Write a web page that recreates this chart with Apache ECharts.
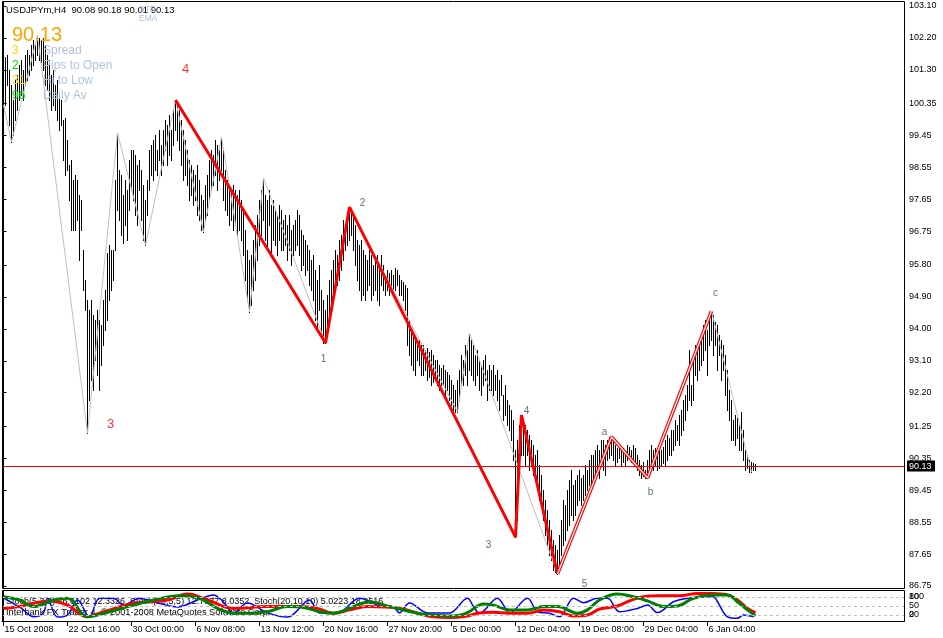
<!DOCTYPE html>
<html><head><meta charset="utf-8">
<script src="https://cdn.jsdelivr.net/npm/echarts@6/dist/echarts.min.js"></script>
<style>html,body{margin:0;padding:0;background:#fff}#c{width:943px;height:638px}</style>
</head><body><div id="c"></div>
<script>
// ---------------- DATA ----------------
const symbolName = "USDJPYm,H4";
const lastBarOHLC = [90.08, 90.18, 90.01, 90.13];
const lastPrice = 90.13;

const highs = [
101.58,101.66,101.72,101.30,100.87,100.45,101.02,101.16,101.44,101.58,
101.30,101.72,101.86,101.72,102.00,102.14,102.00,102.28,102.20,102.14,
102.20,102.00,101.72,101.58,101.16,101.30,100.87,101.02,100.59,100.45,
99.89,99.94,99.32,98.62,98.76,98.20,98.34,98.20,97.77,97.63,
96.22,95.38,94.81,94.53,94.81,94.39,94.25,94.53,94.25,94.11,
94.81,95.09,96.14,96.36,96.22,96.22,98.20,99.52,98.48,98.34,
97.77,98.20,97.91,98.76,99.04,99.04,98.90,98.62,98.76,98.48,
98.06,97.63,98.20,99.04,99.18,99.32,99.46,99.04,99.61,99.18,
99.61,99.89,99.75,100.03,99.61,100.17,100.45,100.31,100.17,99.89,
99.61,99.32,99.04,98.76,98.62,98.48,98.34,98.62,98.20,97.77,
97.63,98.06,98.34,98.76,99.04,98.90,99.32,99.18,99.04,99.41,
99.04,98.48,98.20,98.06,97.91,98.06,97.91,97.77,97.91,97.63,
97.35,96.79,96.22,95.94,96.08,96.50,96.93,97.21,97.63,97.91,
98.25,97.77,97.63,97.91,97.49,97.63,97.35,97.21,97.49,97.35,
97.07,97.21,96.93,97.21,96.79,96.93,97.07,97.35,97.21,96.79,
96.65,96.50,96.36,96.22,95.94,96.08,95.66,95.38,95.80,95.09,
94.81,94.53,94.95,95.38,95.66,95.94,96.22,96.08,96.50,96.65,
97.07,96.93,97.21,97.43,97.35,97.21,96.93,96.50,96.36,96.50,
96.22,96.08,95.94,96.22,96.08,95.80,95.94,96.08,95.80,96.08,
95.80,95.52,95.66,95.57,95.66,95.52,95.71,95.66,95.52,95.38,
95.32,95.24,95.15,94.25,93.97,93.83,93.69,93.54,93.69,93.54,
93.54,93.40,93.46,93.35,93.40,93.26,93.12,93.12,92.98,92.90,
92.98,92.84,92.78,92.70,92.56,92.42,92.28,92.56,92.84,93.26,
93.12,93.54,93.40,93.88,93.69,93.54,93.26,93.40,93.12,92.98,
93.12,93.26,92.84,92.98,92.84,92.98,92.70,92.84,92.56,92.70,
92.14,92.42,92.00,91.85,91.71,91.43,90.59,90.87,91.29,91.57,
91.43,91.29,91.15,91.01,90.87,90.73,90.44,90.59,90.16,89.88,
89.46,89.18,88.89,88.61,88.33,88.05,87.91,87.77,88.19,88.61,
89.18,89.03,89.46,89.74,90.02,89.60,89.74,89.88,90.02,89.80,
89.88,90.16,90.02,90.30,90.44,90.44,90.59,90.73,90.59,90.87,
90.87,90.73,90.87,90.95,90.95,90.87,90.73,90.64,90.73,90.59,
90.64,90.53,90.73,90.67,90.59,90.73,90.64,90.44,90.30,90.16,
90.25,90.02,90.30,90.59,90.73,90.59,90.64,90.53,90.73,90.59,
90.67,90.87,91.01,90.92,91.15,91.15,91.43,91.29,91.57,91.71,
92.00,92.14,92.42,93.40,92.42,93.12,93.54,93.40,93.69,93.83,
94.11,94.25,93.97,94.31,94.50,94.39,94.19,94.11,93.83,93.69,
93.54,93.26,92.84,92.28,92.00,91.43,91.57,91.49,91.29,91.66,
91.15,90.59,90.44,90.30,90.25,90.22,90.18
];
const lows = [
100.87,100.31,100.87,99.75,99.27,99.46,99.89,100.17,100.45,100.59,
100.45,100.87,101.02,101.16,101.30,101.44,101.58,101.72,101.58,101.52,
101.30,100.87,100.73,100.45,100.17,100.31,100.17,99.89,99.61,99.75,
98.76,98.34,98.48,97.63,96.79,96.79,96.79,97.07,95.94,96.79,
95.09,94.53,91.06,92.00,92.56,92.28,93.12,92.70,92.28,92.98,
93.54,93.97,94.25,94.81,95.09,95.38,96.22,97.35,97.07,96.65,
96.42,96.93,96.50,97.35,97.91,97.63,97.21,96.93,97.91,97.07,
96.50,96.36,97.21,97.91,98.34,98.20,98.48,98.34,98.76,98.34,
98.62,99.04,98.62,98.90,98.76,99.18,99.61,99.32,99.04,98.62,
98.20,98.34,98.06,97.63,97.77,97.49,97.63,97.21,97.07,96.79,
96.73,97.07,97.21,97.63,97.91,98.06,98.34,97.91,98.20,98.48,
97.63,97.35,97.21,96.93,97.07,96.79,96.93,96.65,96.79,96.50,
96.08,95.38,94.81,94.48,94.67,95.09,95.38,95.94,96.36,96.65,
97.07,96.50,96.22,96.93,96.08,96.50,96.36,96.08,96.50,96.22,
96.22,96.36,95.94,96.22,95.80,96.08,96.22,96.36,96.08,95.66,
95.80,95.52,95.66,95.24,95.09,94.81,94.25,93.97,94.53,93.83,
93.60,93.60,93.97,94.25,94.53,94.81,95.09,95.24,95.38,95.66,
95.94,96.22,96.36,96.50,96.65,96.22,95.80,95.38,95.09,94.81,
94.95,94.81,95.09,95.24,94.81,94.95,95.09,94.81,94.67,95.24,
95.09,94.95,95.09,94.95,95.18,95.09,95.09,95.24,94.95,94.95,
94.81,94.53,93.54,93.26,92.98,92.84,92.70,93.12,92.98,92.70,
92.70,92.84,92.56,92.64,92.42,92.50,92.61,92.42,92.28,92.42,
92.42,92.14,92.28,92.00,91.85,91.71,91.66,91.66,92.00,92.42,
92.42,92.70,92.42,92.84,92.70,92.56,92.42,92.70,92.28,92.14,
92.42,92.56,92.00,92.28,92.28,92.14,92.28,92.00,91.71,92.14,
91.43,91.57,91.29,91.15,90.87,90.30,88.13,88.61,90.02,90.44,
90.44,90.16,90.44,90.02,90.16,89.88,89.74,89.46,89.18,89.03,
88.61,88.19,87.91,87.62,87.48,87.20,87.14,87.09,87.34,87.62,
87.91,88.05,88.33,88.47,88.75,88.61,88.75,89.03,89.18,89.03,
89.18,89.32,89.46,89.60,89.46,89.60,89.88,90.02,89.80,90.16,
90.02,89.88,90.30,90.36,90.44,90.30,90.16,90.25,90.36,90.16,
90.25,90.16,90.30,90.36,90.25,90.30,90.13,90.02,89.88,89.80,
89.85,89.80,89.80,89.96,90.02,90.02,90.13,90.02,90.08,90.16,
90.22,90.16,90.30,90.44,90.44,90.59,90.73,90.87,90.73,91.01,
91.15,91.43,91.71,92.00,91.85,92.00,92.70,92.56,92.84,92.98,
93.12,93.40,92.70,93.54,93.69,93.26,93.54,92.84,93.26,92.56,
92.84,92.14,91.71,91.43,90.87,90.87,90.73,90.92,90.59,90.59,
90.30,90.02,90.08,89.96,89.96,90.02,90.01
];

const priceTicks = [103.10,102.20,101.30,100.35,99.45,98.55,97.65,96.75,95.80,94.90,94.00,93.10,92.20,91.25,90.35,89.45,88.55,87.65,86.75];
const timeTickIdx = [0,32,64,96,128,160,192,224,256,288,320,352];
const timeTickLabels = ["15 Oct 2008","22 Oct 16:00","30 Oct 00:00","6 Nov 08:00","13 Nov 12:00","20 Nov 16:00","27 Nov 20:00","5 Dec 00:00","12 Dec 04:00","19 Dec 08:00","29 Dec 04:00","6 Jan 04:00"];

// thin grey zigzag
const zigIdx   = [0,4,17,42,57,71,86,100,109,123,130,161,173,227,233,277,304,322,354,374];
const zigPrice = [100.31,99.27,102.28,91.06,99.52,96.36,100.45,96.73,99.41,94.48,98.25,93.60,97.43,91.66,93.88,87.09,90.95,89.80,94.50,89.96];

// red wave lines
const waveSolidIdx   = [86,161,173,256,259,277];
const waveSolidPrice = [100.45,93.60,97.43,88.13,91.57,87.09];
const waveOutlineIdx   = [277,304,322,354];
const waveOutlinePrice = [87.09,90.95,89.80,94.50];

// wave labels
const waveLabels     = ["1","2","3","4","5","a","b","c"];
const waveLabelIdx   = [161,173,256,259,277,304,322,354];
const waveLabelPrice = [93.60,97.43,88.13,91.57,87.09,90.95,89.80,94.50];
const bigLabels      = ["4","3"];
const bigLabelIdx    = [86,42];
const bigLabelPrice  = [100.45,91.06];

// stochastic sub-window
const stochLevels = [80,50,20];
const stochAltLevels = [80,20];
const stochAltLabels = ["100","0"];
const fastIdx = [0,9,15,20,22,27,32,37,43,48,55,60,68,77,87,97,105,110,115,122,132,142,153,158,167,178,187,195,198,203,212,223,232,235,238,247,250,253,262,267,273,278,285,290,297,302,308,317,322,327,335,342,355,357,362,367,370,375];
const fastVal = [76,42,14,27,76,13,20,70,13,76,76,53,76,60,47,70,87,63,27,60,27,13,70,27,27,76,53,47,27,60,27,27,76,48,26,76,53,26,76,31,26,14,76,61,76,76,31,42,53,28,64,76,81,64,14,9,20,14];
const midIdx = [0,8,15,23,32,42,48,65,82,92,102,115,132,148,157,165,173,182,198,215,223,232,237,245,253,262,270,278,285,292,298,307,313,320,328,338,347,355,362,367,372,376];
const midVal = [42,48,59,67,53,14,26,59,70,90,70,42,48,48,42,26,37,48,42,14,12,17,26,29,26,26,37,31,17,20,40,50,67,81,84,84,92,92,87,70,42,28];
const slowIdx = [0,8,15,25,32,42,53,65,75,88,98,107,115,123,132,142,150,158,165,175,183,193,207,215,225,232,240,245,253,262,270,277,287,292,298,307,313,322,330,337,345,355,362,367,372,376];
const slowVal = [81,70,48,70,76,14,31,53,70,84,76,42,26,26,31,48,45,31,26,48,64,48,26,20,17,28,57,53,37,37,48,48,26,37,70,90,84,67,48,50,76,87,87,64,37,17];
const stochText = "Stoch(5,3,3) 46.6102 12.3326  Stoch(10,5,5) 12.7077 8.0352  Stoch(20,10,10) 5.0223 18.2516";
const copyrightText = "Interbank FX Trader 4, \u00a9 2001-2008 MetaQuotes Software Corp.";

// info panel
const infoValues = ["3","2","31","96"];
const infoNames  = ["Spread","Pips to Open","Hi to Low","Daily Av"];

// ---------------- STYLE / LAYOUT ----------------
const FONT = '"Liberation Sans",Arial,sans-serif';
const FONTW = '"Liberation Sans",Arial,sans-serif';
const AX_FS = 9;
const X_MIN = -0.75, X_MAX = 450.25;
const waveLabelOffsets = [[-2,16],[13,-4],[-27,8],[5,-4],[27,10],[-7,-5],[3,14],[4,-18]];
const bigLabelOffsets = [[10,-31],[23,-9]];
const infoColors = ["#FFD700","#00E000","#FFD700","#00E000"];
const infoY = [50.5,65.5,80.5,95.5];

function crisp(v){ return Math.round(v - 0.5) + 0.5; }
const pairs = (a,b) => a.map((x,k)=>[x,b[k]]);

const chart = echarts.init(document.getElementById('c'), null, {renderer:'canvas', width:943, height:638});

const graphics = [
  {type:'rect', z:50, shape:{x:2.5,y:1.5,width:902,height:587}, style:{fill:null,stroke:'#000',lineWidth:1}},
  {type:'rect', z:50, shape:{x:2.5,y:590.5,width:902,height:31}, style:{fill:null,stroke:'#000',lineWidth:1}},
  {type:'text', z:20, x:6, y:10.5, style:{text: symbolName + '  ' + lastBarOHLC.map(v=>v.toFixed(2)).join(' '), fill:'#000', font:'9.5px '+FONT, verticalAlign:'middle', align:'left'}},
  {type:'text', z:21, x:139, y:9.5, style:{text:'STR', fill:'#B0C4DE', font:'8.5px '+FONT, verticalAlign:'middle', align:'left'}},
  {type:'text', z:21, x:139, y:18.5, style:{text:'EMA', fill:'#B0C4DE', font:'8.5px '+FONT, verticalAlign:'middle', align:'left'}},
  {type:'text', z:20, x:12, y:35, style:{text: lastPrice.toFixed(2), fill:'#FFA500', font:'20px '+FONTW, verticalAlign:'middle', align:'left'}},
  {type:'text', z:1, x:6, y:602, style:{text: stochText, fill:'#000', font:'9px '+FONT, verticalAlign:'middle', align:'left'}},
  {type:'text', z:1, x:6, y:612, style:{text: copyrightText, fill:'#000', font:'9.2px '+FONT, verticalAlign:'middle', align:'left'}}
];
infoValues.forEach((v,k)=>{
  graphics.push({type:'text', z:20, x:12, y:infoY[k], style:{text:v, fill:infoColors[k], font:'12px '+FONTW, verticalAlign:'middle', align:'left'}});
  graphics.push({type:'text', z:20, x:43, y:infoY[k], style:{text:infoNames[k], fill:'#B0C4DE', font:'12px '+FONTW, verticalAlign:'middle', align:'left'}});
});

const option = {
  animation:false,
  backgroundColor:'#ffffff',
  grid:[
    {left:2, top:2, width:902, height:586},
    {left:2, top:591, width:902, height:30}
  ],
  xAxis:[
    {type:'value', gridIndex:0, min:X_MIN, max:X_MAX, show:false},
    {type:'value', gridIndex:1, min:X_MIN, max:X_MAX,
      axisLine:{show:true, lineStyle:{color:'#000', width:1}},
      axisTick:{show:true, length:5, customValues:timeTickIdx, lineStyle:{color:'#000'}},
      axisLabel:{show:true, customValues:timeTickIdx, hideOverlap:false, formatter:v=>{const k=timeTickIdx.indexOf(v);return k<0?'':timeTickLabels[k];},
        align:'left', margin:4, padding:[0,0,0,1], color:'#000', fontSize:AX_FS, fontFamily:FONT},
      splitLine:{show:false}}
  ],
  yAxis:[
    {type:'value', gridIndex:0, position:'right', min:86.694, max:103.213,
      axisLine:{show:true, lineStyle:{color:'#000'}},
      axisTick:{show:true, length:3, customValues:priceTicks, lineStyle:{color:'#000'}},
      axisLabel:{show:true, customValues:priceTicks, hideOverlap:false, formatter:v=>v.toFixed(2), margin:5, color:'#000', fontSize:AX_FS, fontFamily:FONT},
      splitLine:{show:false}},
    {type:'value', gridIndex:1, position:'right', min:0, max:100,
      axisLine:{show:true, lineStyle:{color:'#000'}},
      axisTick:{show:false},
      axisLabel:{show:true, customValues:stochLevels, hideOverlap:false, formatter:v=>String(v), margin:5, color:'#000', fontSize:AX_FS, fontFamily:FONT},
      splitLine:{show:false}},
    {type:'value', gridIndex:1, position:'right', min:0, max:100,
      axisLine:{show:false}, axisTick:{show:false},
      axisLabel:{show:true, customValues:stochAltLevels, hideOverlap:false, formatter:v=>stochAltLabels[stochAltLevels.indexOf(v)], margin:5, color:'#000', fontSize:AX_FS, fontFamily:FONT},
      splitLine:{show:false}}
  ],
  graphic: graphics,
  series:[
    { type:'custom', name:'bars', xAxisIndex:0, yAxisIndex:0, z:2,
      data: highs.map((h,i)=>[i,h,lows[i]]),
      renderItem:(params,api)=>{
        const p1 = api.coord([api.value(0), api.value(1)]);
        const p2 = api.coord([api.value(0), api.value(2)]);
        const x = crisp(p1[0]);
        return {type:'line', shape:{x1:x, y1:Math.round(p1[1]), x2:x, y2:Math.round(p2[1])+1}, style:{stroke:'#000', lineWidth:1}};
      }},
    { type:'line', name:'zigzag', xAxisIndex:0, yAxisIndex:0, z:3, data:pairs(zigIdx,zigPrice),
      showSymbol:false, symbol:'none', lineStyle:{color:'#C0C0C0', width:1}},
    { type:'line', name:'waveSolid', xAxisIndex:0, yAxisIndex:0, z:4, data:pairs(waveSolidIdx,waveSolidPrice),
      showSymbol:false, symbol:'none', lineStyle:{color:'#FF0000', width:3}},
    { type:'line', name:'waveOutline', xAxisIndex:0, yAxisIndex:0, z:4, data:pairs(waveOutlineIdx,waveOutlinePrice),
      showSymbol:false, symbol:'none', lineStyle:{color:'#FF0000', width:3.6}},
    { type:'line', name:'waveOutlineInner', xAxisIndex:0, yAxisIndex:0, z:5, data:pairs(waveOutlineIdx,waveOutlinePrice),
      showSymbol:false, symbol:'none', lineStyle:{color:'#FFFFFF', width:1.2}},
    { type:'custom', name:'lastPrice', xAxisIndex:0, yAxisIndex:0, z:6, clip:false,
      data:[[0,lastPrice]],
      renderItem:(params,api)=>{
        const p = api.coord([api.value(0), api.value(1)]);
        const cs = params.coordSys;
        const y = crisp(p[1]);
        const xr = cs.x + cs.width;
        return {type:'group', children:[
          {type:'line', shape:{x1:cs.x, y1:y, x2:xr, y2:y}, style:{stroke:'#FF0000', lineWidth:1}},
          {type:'rect', shape:{x:xr+3, y:y-6, width:28, height:11}, style:{fill:'#000'}},
          {type:'text', x:xr+5, y:y, style:{text:api.value(1).toFixed(2), fill:'#fff', font:AX_FS+'px '+FONT, verticalAlign:'middle', align:'left'}}
        ]};
      }},
    { type:'scatter', name:'waveLabels', xAxisIndex:0, yAxisIndex:0, z:7, symbol:'circle', symbolSize:1,
      itemStyle:{color:'rgba(0,0,0,0)'},
      label:{show:true, position:'inside', color:'#2F4F4F', fontSize:10, fontFamily:FONTW},
      data: waveLabelIdx.map((x,k)=>({value:[x,waveLabelPrice[k]], label:{formatter:waveLabels[k], offset:waveLabelOffsets[k]}}))},
    { type:'scatter', name:'bigLabels', xAxisIndex:0, yAxisIndex:0, z:7, symbol:'circle', symbolSize:1,
      itemStyle:{color:'rgba(0,0,0,0)'},
      label:{show:true, position:'inside', color:'#FF0000', fontSize:13, fontFamily:FONTW},
      data: bigLabelIdx.map((x,k)=>({value:[x,bigLabelPrice[k]], label:{formatter:bigLabels[k], offset:bigLabelOffsets[k]}}))},
    { type:'line', name:'stochFast', xAxisIndex:1, yAxisIndex:1, z:2, data:pairs(fastIdx,fastVal),
      showSymbol:false, symbol:'none', smooth:0.35, lineStyle:{color:'#0000FF', width:1.5},
      markLine:{silent:true, symbol:['none','none'], label:{show:false}, lineStyle:{color:'#C0C0C0', type:[3,3], width:1},
        data: stochLevels.map(v=>({yAxis:v}))}},
    { type:'line', name:'stochMid', xAxisIndex:1, yAxisIndex:1, z:3, data:pairs(midIdx,midVal),
      showSymbol:false, symbol:'none', smooth:0.4, lineStyle:{color:'#FF0000', width:3}},
    { type:'line', name:'stochSlow', xAxisIndex:1, yAxisIndex:1, z:4, data:pairs(slowIdx,slowVal),
      showSymbol:false, symbol:'none', smooth:0.4, lineStyle:{color:'#008000', width:3}}
  ]
};
chart.setOption(option);
</script>
</body></html>
